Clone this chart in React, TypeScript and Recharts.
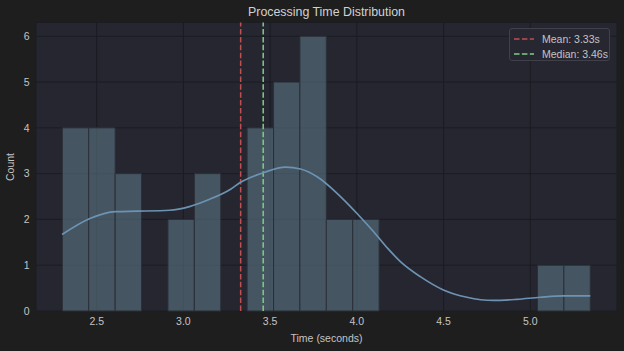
import {
  CartesianGrid,
  ComposedChart,
  Line,
  ReferenceArea,
  ReferenceLine,
  XAxis,
  YAxis,
} from "recharts";

// histogram: 20 bins of equal width
const BIN_START = 2.302;
const BIN_WIDTH = 0.1522;
const binCounts = [4, 4, 3, 0, 2, 3, 0, 4, 5, 6, 2, 2, 0, 0, 0, 0, 0, 0, 1, 1];

// kde curve, scaled to counts
const kdeTimes = [
  2.3, 2.461, 2.608, 2.73, 2.92, 3.035, 3.151, 3.272, 3.329, 3.462, 3.589, 3.675, 3.771,
  3.886, 4.001, 4.097, 4.182, 4.251, 4.366, 4.499, 4.635, 4.787, 4.923, 5.057, 5.19, 5.346,
];
const kdeCounts = [
  1.67, 2.02, 2.17, 2.18, 2.2, 2.28, 2.44, 2.66, 2.81, 3.02, 3.14, 3.1, 2.93,
  2.57, 2.13, 1.73, 1.35, 1.08, 0.75, 0.46, 0.3, 0.23, 0.255, 0.3, 0.33, 0.33,
];

const MEAN = 3.33;
const MEDIAN = 3.46;

const xTicks = [2.5, 3.0, 3.5, 4.0, 4.5, 5.0];
const yTicks = [0, 1, 2, 3, 4, 5, 6];

const FONT = '"Liberation Sans", Arial, sans-serif';
const TEXT = "#c4c4c4";
const MEAN_COLOR = "#c0504f";
const MEDIAN_COLOR = "#7dcf82";

const legendItems = [
  { label: `Mean: ${MEAN.toFixed(2)}s`, color: MEAN_COLOR },
  { label: `Median: ${MEDIAN.toFixed(2)}s`, color: MEDIAN_COLOR },
];

export default function App() {
  const rows = kdeTimes.map((t, i) => ({ t, density: kdeCounts[i] }));
  const bins = binCounts.map((count, i) => ({
    x1: BIN_START + i * BIN_WIDTH,
    x2: BIN_START + (i + 1) * BIN_WIDTH,
    count,
  }));

  return (
    <div
      style={{
        position: "absolute",
        left: 0,
        top: 0,
        width: 624,
        height: 351,
        background: "#1e1e1e",
        fontFamily: FONT,
      }}
    >
      <div
        style={{
          position: "absolute",
          left: 36,
          width: 581,
          top: 5,
          textAlign: "center",
          color: "#d2d2d2",
          fontSize: 12.4,
        }}
      >
        Processing Time Distribution
      </div>

      <ComposedChart
        width={624}
        height={351}
        data={rows}
        margin={{ top: 22.5, right: 7, bottom: 0, left: 6 }}
      >
        <CartesianGrid stroke="#1b1c22" strokeWidth={1} fill="#252630" />
        <XAxis
          dataKey="t"
          type="number"
          domain={[2.15, 5.5]}
          ticks={xTicks}
          tickFormatter={(v: number) => v.toFixed(1)}
          allowDataOverflow
          axisLine={false}
          tickLine={false}
          tickSize={3.5}
          tickMargin={3}
          height={40}
          tick={{ fill: TEXT, fontSize: 10.5, fontFamily: FONT }}
          label={{
            content: () => (
              <text
                x={326.5}
                y={338}
                textAnchor="middle"
                dominantBaseline="central"
                fill={TEXT}
                fontSize={10.5}
                fontFamily={FONT}
              >
                Time (seconds)
              </text>
            ),
          }}
        />
        <YAxis
          type="number"
          domain={[0, 6.3]}
          ticks={yTicks}
          allowDataOverflow
          axisLine={false}
          tickLine={false}
          tickSize={3.5}
          tickMargin={3}
          width={30}
          tick={{ fill: TEXT, fontSize: 10.5, fontFamily: FONT }}
          label={{
            content: () => (
              <text
                x={10}
                y={167}
                transform="rotate(-90 10 167)"
                textAnchor="middle"
                dominantBaseline="central"
                fill={TEXT}
                fontSize={10.5}
                fontFamily={FONT}
              >
                Count
              </text>
            ),
          }}
        />

        {bins
          .filter((b) => b.count > 0)
          .map((b) => (
            <ReferenceArea
              key={b.x1}
              x1={b.x1}
              x2={b.x2}
              y1={0}
              y2={b.count}
              fill="#597381"
              fillOpacity={0.62}
              stroke="#2b3038"
              strokeOpacity={1}
              strokeWidth={1}
            />
          ))}

        <ReferenceLine x={MEAN} stroke={MEAN_COLOR} strokeWidth={1.5} strokeDasharray="5.5 2.4" />
        <ReferenceLine x={MEDIAN} stroke={MEDIAN_COLOR} strokeWidth={1.5} strokeDasharray="5.5 2.4" />

        <Line
          type="monotone"
          dataKey="density"
          stroke="#6d93b2"
          strokeWidth={1.7}
          dot={false}
          activeDot={false}
          isAnimationActive={false}
        />
      </ComposedChart>

      <div
        style={{
          position: "absolute",
          left: 509,
          top: 28,
          width: 101,
          height: 33,
          boxSizing: "border-box",
          background: "#262730",
          border: "1px solid #3f4049",
          borderRadius: 3,
          padding: "2px 0 0 4px",
        }}
      >
        {legendItems.map((item) => (
          <div
            key={item.label}
            style={{ display: "flex", alignItems: "center", height: 15, color: TEXT, fontSize: 10.5 }}
          >
            <svg width={20} height={4} style={{ marginRight: 8 }}>
              <line
                x1={0}
                y1={2}
                x2={20}
                y2={2}
                stroke={item.color}
                strokeWidth={1.5}
                strokeDasharray="5.5 2.4"
              />
            </svg>
            <span>{item.label}</span>
          </div>
        ))}
      </div>
    </div>
  );
}
